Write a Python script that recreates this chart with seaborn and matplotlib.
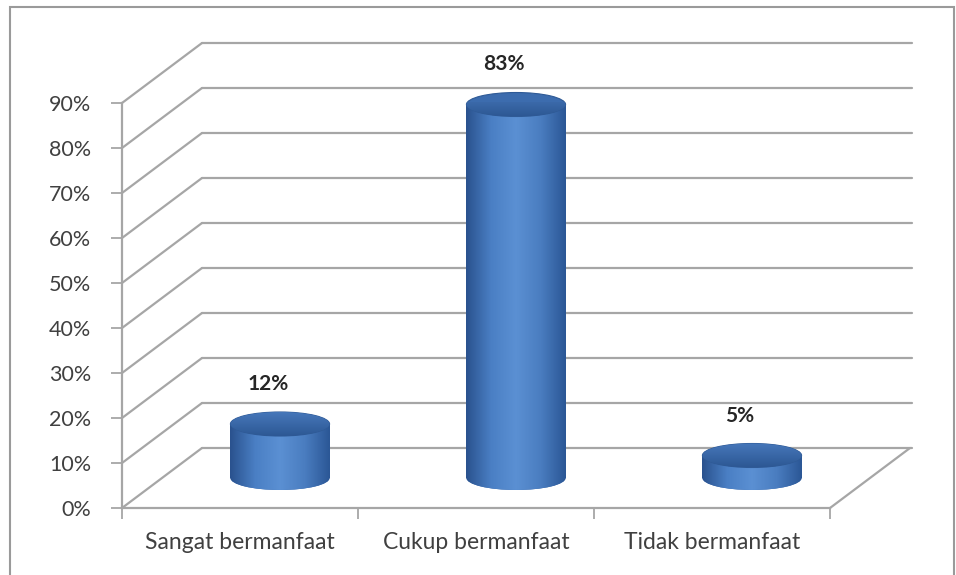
import numpy as np
import matplotlib
matplotlib.use("Agg")
import matplotlib.pyplot as plt
import seaborn as sns
from matplotlib.patches import Ellipse, Rectangle
from matplotlib.transforms import Affine2D
from matplotlib.colors import LinearSegmentedColormap
from matplotlib.lines import Line2D

categories = ["Sangat bermanfaat", "Cukup bermanfaat", "Tidak bermanfaat"]
values = [12, 83, 5]
value_labels = ["12%", "83%", "5%"]
y_ticks = [0, 10, 20, 30, 40, 50, 60, 70, 80, 90]

sns.set_style("white")
plt.rcParams["font.family"] = ["Lato", "DejaVu Sans"]

fig = plt.figure(figsize=(9.56, 5.75), dpi=100)
ax = fig.add_axes([122 / 956, 67 / 575, 708 / 956, 405 / 575])

# perspective offsets (data units) for the back wall
DX = 80 / 236
DY = 60 / 4.5
grid_col = "#a6a6a6"

sns.barplot(x=categories, y=values, width=0.42, color="#4a7bbd", ax=ax, zorder=3)
ax.set_xlim(-0.5, 2.5)
ax.set_ylim(0, 90)

# back wall grid + side lines
for v in y_ticks:
    ax.add_line(Line2D([-0.5 + DX, 2.5 + DX + 2 / 236], [v + DY, v + DY], color=grid_col, lw=1.6, clip_on=False, zorder=1))
    ax.add_line(Line2D([-0.5, -0.5 + DX], [v, v + DY], color=grid_col, lw=1.6, clip_on=False, zorder=1))
ax.add_line(Line2D([2.5, 2.5 + DX], [0, DY], color=grid_col, lw=1.6, clip_on=False, zorder=1))

# cylinders
mid = Affine2D().translate(DX / 2, DY / 2) + ax.transData
body_cmap = LinearSegmentedColormap.from_list("body", ["#2a528e", "#4a7fc4", "#5b90d3", "#4a7dc0", "#2b5796"])
top_cmap = LinearSegmentedColormap.from_list("top", ["#4677ba", "#2d5894"])
grad = np.linspace(0, 1, 200).reshape(1, -1)
eh = 24 / 4.5
for i, p in enumerate(ax.patches):
    p.set_transform(mid)
    p.set_edgecolor("none")
    p.set_clip_on(False)
    x0, w, h = p.get_x(), p.get_width(), p.get_height()
    xc = x0 + w / 2
    bot = Ellipse((xc, 0), w, eh, transform=mid, facecolor="#3a69aa", edgecolor="none", zorder=2.9, clip_on=False)
    ax.add_patch(bot)

    im = ax.imshow(grad, cmap=body_cmap, aspect="auto", extent=(x0, x0 + w, -eh, h),
                   interpolation="bilinear", transform=mid, zorder=3.5)
    im.set_clip_path(p)
    im = ax.imshow(grad, cmap=body_cmap, aspect="auto", extent=(x0, x0 + w, -eh, h),
                   interpolation="bilinear", transform=mid, zorder=3.5)
    im.set_clip_path(bot)
    im.set_clip_box(None)

    top = Ellipse((xc, h), w, eh, transform=mid, facecolor="#3c6cae", edgecolor="#2f5a96", lw=0.8,
                  zorder=4, clip_on=False)
    ax.add_patch(top)
    im = ax.imshow(grad.T, cmap=top_cmap, aspect="auto", extent=(x0, x0 + w, h - eh / 2, h + eh / 2),
                   interpolation="bilinear", transform=mid, zorder=4.5)
    im.set_clip_path(top)
    im.set_clip_box(None)
    ax.text(xc + DX / 2 - 12 / 236, h + DY / 2 + 40 / 4.5, value_labels[i], ha="center", va="center",
            fontsize=15, fontweight="bold", color="#262626", zorder=6)

ax.set_xlim(-0.5, 2.5)
ax.set_ylim(0, 90)
ax.set_yticks(y_ticks)
ax.set_yticklabels([f"{v}%" for v in y_ticks])
ax.set_xticks([-0.5, 0.5, 1.5, 2.5], minor=True)
ax.tick_params(axis="y", direction="out", length=8, width=1.3, color=grid_col, pad=14,
               labelsize=15.5, labelcolor="#404040", left=True)
ax.tick_params(axis="x", which="major", length=0, pad=17, labelsize=16.5, labelcolor="#404040")
ax.tick_params(axis="x", which="minor", direction="out", length=8, width=1.3, color=grid_col, bottom=True)
ax.set_xlabel("")
ax.set_ylabel("")
for s in ["top", "right"]:
    ax.spines[s].set_visible(False)
for s in ["left", "bottom"]:
    ax.spines[s].set_color(grid_col)
    ax.spines[s].set_linewidth(1.6)
ax.patch.set_alpha(0)

# outer chart frame
fig.patches.append(Rectangle((10 / 956, -0.01), 944 / 956, 1.01 - 7 / 575, transform=fig.transFigure,
                             fill=False, edgecolor="#9a9a9a", lw=1.5))

fig.savefig("out.png", dpi=100)
